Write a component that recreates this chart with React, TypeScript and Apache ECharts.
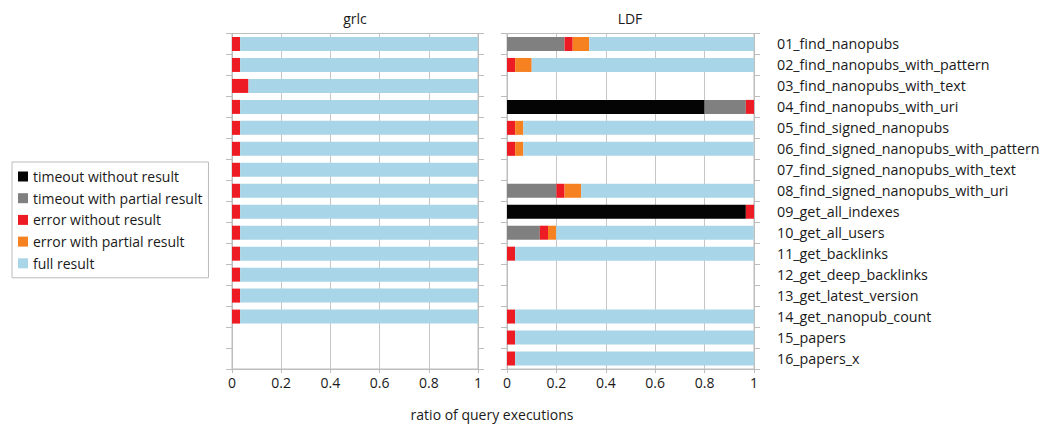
import React, { useEffect, useRef } from 'react';
import * as echarts from 'echarts';

const categories = [
  '01_find_nanopubs',
  '02_find_nanopubs_with_pattern',
  '03_find_nanopubs_with_text',
  '04_find_nanopubs_with_uri',
  '05_find_signed_nanopubs',
  '06_find_signed_nanopubs_with_pattern',
  '07_find_signed_nanopubs_with_text',
  '08_find_signed_nanopubs_with_uri',
  '09_get_all_indexes',
  '10_get_all_users',
  '11_get_backlinks',
  '12_get_deep_backlinks',
  '13_get_latest_version',
  '14_get_nanopub_count',
  '15_papers',
  '16_papers_x',
];

const seriesNames = [
  'timeout without result',
  'timeout with partial result',
  'error without result',
  'error with partial result',
  'full result',
];
const seriesColors = ['#040404', '#808080', '#ed1c24', '#f68121', '#a8d5e8'];

const xTicks = ['0', '0.2', '0.4', '0.6', '0.8', '1'];

// grlc
const grlcTimeoutNo = [0, 0, 0, 0, 0, 0, 0, 0, 0, 0, 0, 0, 0, 0, null, null];
const grlcTimeoutPartial = [0, 0, 0, 0, 0, 0, 0, 0, 0, 0, 0, 0, 0, 0, null, null];
const grlcErrorNo = [0.033, 0.033, 0.067, 0.033, 0.033, 0.033, 0.033, 0.033, 0.033, 0.033, 0.033, 0.033, 0.033, 0.033, null, null];
const grlcErrorPartial = [0, 0, 0, 0, 0, 0, 0, 0, 0, 0, 0, 0, 0, 0, null, null];
const grlcFull = [0.967, 0.967, 0.933, 0.967, 0.967, 0.967, 0.967, 0.967, 0.967, 0.967, 0.967, 0.967, 0.967, 0.967, null, null];

// LDF
const ldfTimeoutNo = [0, 0, null, 0.8, 0, 0, null, 0, 0.967, 0, 0, null, null, 0, 0, 0];
const ldfTimeoutPartial = [0.233, 0, null, 0.167, 0, 0, null, 0.2, 0, 0.133, 0, null, null, 0, 0, 0];
const ldfErrorNo = [0.033, 0.033, null, 0.033, 0.033, 0.033, null, 0.033, 0.033, 0.033, 0.033, null, null, 0.033, 0.033, 0.033];
const ldfErrorPartial = [0.067, 0.067, null, 0, 0.033, 0.033, null, 0.067, 0, 0.033, 0, null, null, 0, 0, 0];
const ldfFull = [0.667, 0.9, null, 0, 0.933, 0.933, null, 0.7, 0, 0.8, 0.967, null, null, 0.967, 0.967, 0.967];

const grlcData = [grlcTimeoutNo, grlcTimeoutPartial, grlcErrorNo, grlcErrorPartial, grlcFull];
const ldfData = [ldfTimeoutNo, ldfTimeoutPartial, ldfErrorNo, ldfErrorPartial, ldfFull];

const FONT = 'Open Sans';
const FS = 14;
const TEXT = '#1a1a1a';
const AXIS = '#bdbdbd';

export default function App() {
  const ref = useRef<HTMLDivElement>(null);
  useEffect(() => {
    const chart = echarts.init(ref.current!, null, { renderer: 'svg' });
    const grids = [
      { left: 232, top: 33.5, width: 246, height: 335.5 },
      { left: 507, top: 33.5, width: 247, height: 335.5 },
    ].map((g) => ({ ...g, show: true, borderColor: AXIS, borderWidth: 1, backgroundColor: 'transparent' }));

    const xAxis = [0, 1].map((i) => ({
      type: 'value',
      gridIndex: i,
      min: 0,
      max: 1,
      interval: 0.2,
      axisLine: { show: true, lineStyle: { color: AXIS } },
      axisTick: { show: true, length: 4, lineStyle: { color: AXIS } },
      splitLine: { show: true, lineStyle: { color: '#c6c6c6', width: 1 } },
      axisLabel: {
        fontSize: FS,
        fontFamily: FONT,
        color: TEXT,
        margin: 6,
        formatter: (v: number) => xTicks[Math.round(v / 0.2)] ?? String(v),
      },
    }));

    const mkY = (gridIndex: number, position: string, showLabel: boolean) => ({
      type: 'category',
      gridIndex,
      position,
      inverse: true,
      data: categories,
      axisLine: { show: true, lineStyle: { color: AXIS } },
      axisTick: { show: true, length: 6, interval: 0, lineStyle: { color: AXIS } },
      axisLabel: {
        show: showLabel,
        interval: 0,
        fontSize: 14.3,
        fontFamily: FONT,
        color: TEXT,
        margin: 23,
        align: 'left',
      },
      splitLine: { show: false },
    });
    const yAxis = [mkY(0, 'left', false), mkY(0, 'right', false), mkY(1, 'left', false), mkY(1, 'right', true)];

    const series: any[] = [];
    seriesNames.forEach((name, k) => {
      series.push({
        type: 'bar',
        name,
        stack: 'grlc',
        xAxisIndex: 0,
        yAxisIndex: 0,
        barWidth: 14,
        itemStyle: { color: seriesColors[k] },
        data: grlcData[k],
      });
    });
    seriesNames.forEach((name, k) => {
      series.push({
        type: 'bar',
        name,
        stack: 'ldf',
        xAxisIndex: 1,
        yAxisIndex: 2,
        barWidth: 14,
        itemStyle: { color: seriesColors[k] },
        data: ldfData[k],
      });
    });

    chart.setOption({
      animation: false,
      backgroundColor: '#ffffff',
      grid: grids,
      xAxis,
      yAxis,
      series,
      legend: {
        data: seriesNames,
        orient: 'vertical',
        left: 12,
        top: 162,
        icon: 'rect',
        itemWidth: 10,
        itemHeight: 10,
        itemGap: 6.7,
        padding: [7, 6, 7, 6],
        borderColor: '#bbbbbb',
        borderWidth: 1,
        textStyle: { fontSize: FS, fontFamily: FONT, color: TEXT, lineHeight: 15 },
        selectedMode: false,
      },
      graphic: [
        { type: 'text', x: 355, y: 18, style: { text: 'grlc', font: `${FS}px "${FONT}"`, textAlign: 'center', textVerticalAlign: 'middle', fill: TEXT } },
        { type: 'text', x: 630, y: 18, style: { text: 'LDF', font: `${FS}px "${FONT}"`, textAlign: 'center', textVerticalAlign: 'middle', fill: TEXT } },
        { type: 'text', x: 492, y: 414, style: { text: 'ratio of query executions', font: `${FS}px "${FONT}"`, textAlign: 'center', textVerticalAlign: 'middle', fill: TEXT } },
      ],
    });
    return () => chart.dispose();
  }, []);
  return <div ref={ref} style={{ position: 'fixed', left: 0, top: 0, width: 1054, height: 425 }} />;
}
